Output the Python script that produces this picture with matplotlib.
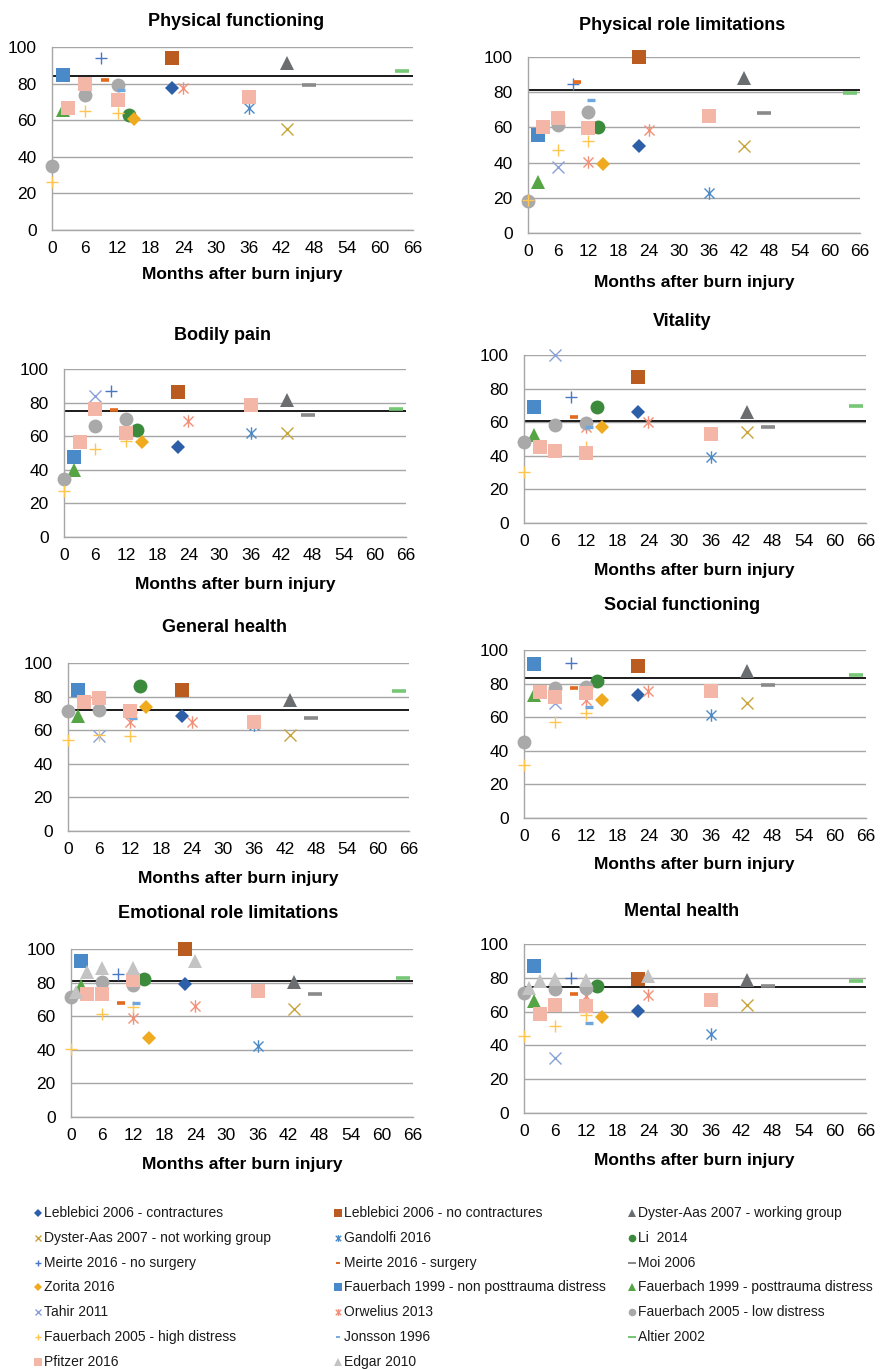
import matplotlib
matplotlib.use("Agg")
import matplotlib.pyplot as plt
from matplotlib.path import Path
import numpy as np

# ---------------------------------------------------------------- data
STUDIES = [
    "Leblebici 2006 - contractures", "Leblebici 2006 - no contractures",
    "Dyster-Aas 2007 - working group", "Dyster-Aas 2007 - not working group",
    "Gandolfi 2016", "Li  2014", "Meirte 2016 - no surgery", "Meirte 2016 - surgery",
    "Moi 2006", "Zorita 2016", "Fauerbach 1999 - non posttrauma distress",
    "Fauerbach 1999 - posttrauma distress", "Tahir 2011", "Orwelius 2013",
    "Fauerbach 2005 - low distress", "Fauerbach 2005 - high distress",
    "Jonsson 1996", "Altier 2002", "Pfitzer 2016", "Edgar 2010",
]

# follow-up moments (months after burn injury) for every study
MONTHS = [[22], [22], [43], [43], [36], [14], [9], [9.7], [47], [15], [2], [2], [6],
          [12, 24], [0, 6, 12], [0, 6, 12], [12.6], [64], [3, 6, 12, 36],
          [1, 3, 6, 12, 24]]

DOMAINS = ["Physical functioning", "Physical role limitations", "Bodily pain",
           "Vitality", "General health", "Social functioning",
           "Emotional role limitations", "Mental health"]

# population norm per domain
NORMS = [84.2, 81.0, 75.2, 60.8, 71.8, 83.2, 81.2, 74.6]

N = None
physical_functioning = [[77.8], [93.8], [91.3], [55.1], [66.9], [62.7], [94.2], [82.2],
                        [79.5], [60.4], [84.5], [65.5], [N], [N, 77.8],
                        [35.1, 73.6, 79.1], [26.4, 64.9, 64.2], [76.4], [86.7],
                        [66.4, 80.0, 71.3, 72.7], [N, N, N, N, N]]
physical_role = [[49.6], [100.0], [88.0], [49.6], [23.0], [60.5], [84.5], [85.7],
                 [68.1], [39.2], [55.7], [28.7], [37.6], [40.1, 58.6],
                 [18.1, 61.4, 69.0], [18.6, 47.1, 52.5], [75.3], [79.5],
                 [60.1, 65.2, 59.9, 66.7], [N, N, N, N, N]]
bodily_pain = [[53.6], [86.3], [81.7], [61.9], [61.9], [63.9], [87.1], [75.8],
               [72.4], [56.3], [47.4], [40.1], [84.1], [N, 69.2],
               [34.5, 66.3, 70.2], [27.2, 52.6, 56.9], [N], [76.4],
               [56.3, 76.2, 61.9, 78.8], [N, N, N, N, N]]
vitality = [[66.3], [87.1], [66.3], [54.1], [39.0], [69.3], [75.2], [63.0],
            [57.0], [57.0], [69.3], [52.5], [100.0], [57.4, 60.0],
            [48.1, 58.4, 59.8], [30.3, 43.0, 45.0], [57.4], [69.9],
            [45.5, 42.6, 41.6, 53.1], [N, N, N, N, N]]
general_health = [[68.2], [83.7], [77.7], [56.9], [63.0], [86.1], [N], [N],
                  [67.2], [73.8], [83.7], [68.2], [56.5], [64.6, 64.8],
                  [71.2, 71.8, 71.0], [54.3, 57.0, 56.3], [67.2], [83.1],
                  [76.5, 79.1, 71.2, 64.8], [N, N, N, N, N]]
social_functioning = [[73.3], [90.7], [87.5], [68.7], [61.4], [81.8], [92.5], [77.2],
                      [79.2], [70.3], [91.7], [73.3], [68.3], [70.3, 75.8],
                      [45.1, 77.2, 78.2], [31.7, 57.0, 62.4], [66.3], [85.1],
                      [75.2, 71.9, 74.3, 75.8], [N, N, N, N, N]]
emotional_role = [[79.2], [100.0], [80.6], [64.4], [42.0], [82.0], [85.1], [67.7],
                  [73.3], [46.9], [92.9], [78.0], [N], [58.8, 66.3],
                  [71.3, 80.2, 78.6], [40.4, 61.4, 65.7], [68.1], [82.6],
                  [73.1, 73.1, 81.6, 75.0], [74.7, 86.5, 88.5, 88.5, 92.9]]
mental_health = [[60.6], [79.5], [78.5], [63.7], [46.7], [75.3], [79.9], [70.4],
                 [75.3], [56.8], [86.8], [66.1], [32.5], [69.0, 70.0],
                 [71.0, 73.6, 74.0], [45.4, 51.3, 58.2], [53.3], [77.9],
                 [58.8, 64.1, 63.1, 67.1], [74.0, 77.9, 79.5, 78.5, 81.3]]

DOMAIN_VALUES = [physical_functioning, physical_role, bodily_pain, vitality,
                 general_health, social_functioning, emotional_role, mental_health]

X_TICKS = list(range(0, 67, 6))
Y_TICKS = list(range(0, 101, 20))

# ---------------------------------------------------------------- styles
def _path(verts, codes):
    return Path(np.array(verts, float), codes)

M, L = Path.MOVETO, Path.LINETO
ASTERISK = _path([(-1, -1), (1, 1), (-1, 1), (1, -1), (0, -1.25), (0, 1.25)],
                 [M, L, M, L, M, L])

# (marker, colour, size, edge width, filled)
STYLES = [
    ("D", "#2D5EA8", 7.0, 0, True),
    ("s", "#BA5B1F", 10, 0, True),
    ("^", "#6B6E70", 10, 0, True),
    ("x", "#C9A43A", 9, 1.0, False),
    (ASTERISK, "#4C8BC8", 9, 1.0, False),
    ("o", "#3C8A3C", 10, 0, True),
    ("+", "#4A76C6", 9, 1.0, False),
    ("_", "#E2691E", 5.8, 2.6, False),
    ("_", "#8A8A8A", 10.5, 2.6, False),
    ("D", "#EFAA1F", 7.0, 0, True),
    ("s", "#4A8AC9", 10, 0, True),
    ("^", "#55A545", 10, 0, True),
    ("x", "#8AA0D8", 9, 1.0, False),
    (ASTERISK, "#F2907A", 9, 1.0, False),
    ("o", "#A9A9A9", 10, 0, True),
    ("+", "#FFC54E", 9, 1.0, False),
    ("_", "#6EA6DE", 5.6, 2.4, False),
    ("_", "#76C776", 10.5, 2.6, False),
    ("s", "#F4B6A7", 10, 0, True),
    ("^", "#C3C3C3", 10, 0, True),
]

W, H, DPI = 882, 1369, 100
GRID = "#A6A6A6"

plt.rcParams["font.family"] = ["Liberation Sans", "DejaVu Sans"]

# panel geometry in pixels: left, right, top (y=100), bottom (y=0),
# title centre, x-label centre
PANELS = [
    (52, 413, 47, 230, (236, 22), (242, 275)),
    (528, 860, 57, 233, (682, 26), (694, 282)),
    (64, 406, 369, 537, (222, 335), (235, 585)),
    (524, 866, 355, 523, (682, 321), (694, 571)),
    (68, 409, 663, 831, (225, 628), (238, 878)),
    (524, 866, 650, 818, (682, 606), (694, 865)),
    (71, 413, 949, 1117, (228, 914), (242, 1165)),
    (524, 866, 944, 1113, (682, 911), (694, 1161)),
]

fig = plt.figure(figsize=(W / DPI, H / DPI), dpi=DPI)


def draw_marker(ax, x, y, style, scale=1.0, zorder=3):
    marker, color, size, mew, filled = style
    kw = dict(linestyle="none", marker=marker, markersize=size * scale,
              clip_on=False, zorder=zorder)
    if filled:
        kw.update(markerfacecolor=color, markeredgewidth=0)
    else:
        kw.update(markerfacecolor="none", markeredgecolor=color,
                  markeredgewidth=mew * (scale if marker == "_" else 1.0))
    ax.plot(x, y, **kw)


for d, (title, values, norm, geo) in enumerate(zip(DOMAINS, DOMAIN_VALUES, NORMS, PANELS)):
    left, right, top, bottom, tpos, xpos = geo
    ax = fig.add_axes([left / W, 1 - bottom / H, (right - left) / W, (bottom - top) / H])
    ax.set_xlim(0, 66)
    ax.set_ylim(0, 100)
    ax.set_xticks(X_TICKS)
    ax.set_yticks(Y_TICKS)
    ax.tick_params(length=0, labelsize=12.5, colors="black")
    ax.tick_params(axis="x", pad=8)
    ax.tick_params(axis="y", pad=11)
    for side in ("top", "right"):
        ax.spines[side].set_visible(False)
    for side in ("left", "bottom"):
        ax.spines[side].set_color(GRID)
        ax.spines[side].set_linewidth(1.0)
    ax.yaxis.grid(True, color=GRID, linewidth=1.0)
    ax.set_axisbelow(True)
    ax.axhline(norm, color="#1A1A1A", linewidth=1.4, zorder=2)

    for k, style in enumerate(STYLES):
        ys = np.array([np.nan if v is None else v for v in values[k]], float)
        if np.all(np.isnan(ys)):
            continue
        draw_marker(ax, MONTHS[k], ys, style, zorder=3 + k * 0.01)

    fig.text(tpos[0] / W, 1 - tpos[1] / H, title, ha="center", va="center",
             fontsize=13, fontweight="bold")
    fig.text(xpos[0] / W, 1 - xpos[1] / H, "Months after burn injury", ha="center",
             va="center", fontsize=12.5, fontweight="bold")

# ---------------------------------------------------------------- legend
lax = fig.add_axes([0, 0, 1, 1], facecolor="none")
lax.set_xlim(0, W)
lax.set_ylim(H, 0)
lax.axis("off")
COL_MARK = [38, 338, 632]
ROW_Y0, ROW_STEP = 1213, 24.8
for k, (name, style) in enumerate(zip(STUDIES, STYLES)):
    row, col = divmod(k, 3)
    y = ROW_Y0 + row * ROW_STEP
    xm = COL_MARK[col]
    draw_marker(lax, [xm], [y], style, scale=0.55)
    lax.text(xm + 6, y, name, ha="left", va="center", fontsize=10, color="#1A1A1A")

fig.savefig("out.png", dpi=DPI)
